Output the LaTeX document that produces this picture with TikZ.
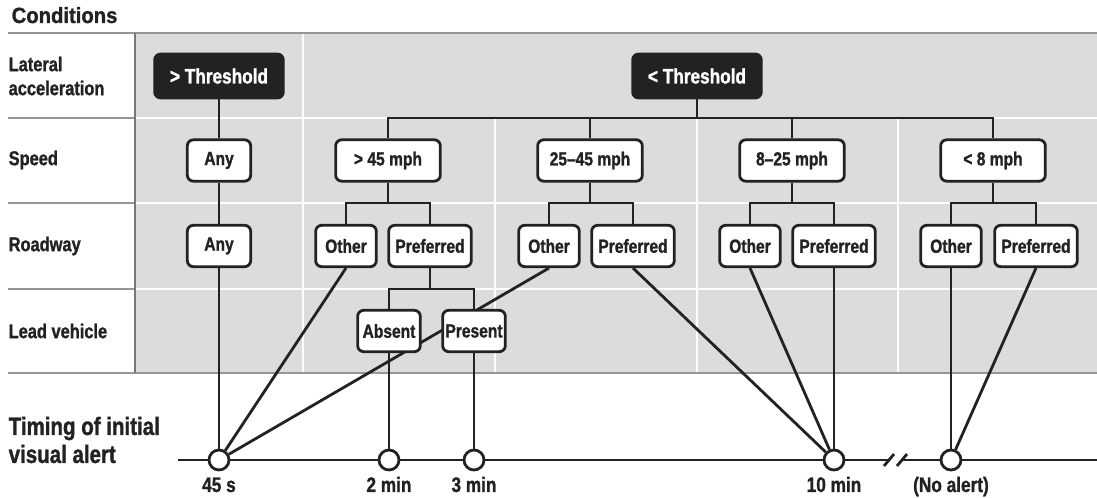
\documentclass[tikz,border=0pt]{standalone}
\usepackage{xcolor}
\usepackage{fontspec}
\setmainfont{Liberation Sans}[FakeStretch=0.82, BoldFont={Liberation Sans Bold},
    BoldFeatures={FakeStretch=0.82, FakeBold=1.2}]
\newfontfamily\titlefont{Liberation Sans}[FakeStretch=0.92, BoldFont={Liberation Sans Bold},
    BoldFeatures={FakeStretch=0.92, FakeBold=1.2}]
\usepackage{tikz}
\usetikzlibrary{positioning, backgrounds}
\definecolor{panelgray}{RGB}{220, 220, 220}
\definecolor{rulegray}{RGB}{150, 150, 150}
\definecolor{inkdark}{RGB}{34, 34, 34}

\begin{document}
\begin{tikzpicture}[
    x=0.75pt, y=-0.75pt,
    every node/.style={text=inkdark},
    rowlabel/.style={anchor=west, align=left, font=\bfseries\fontsize{15}{18}\selectfont},
    choice/.style={rectangle, draw=inkdark, line width=2.1pt, rounded corners=4.5pt,
                   fill=white, minimum height=31pt, inner sep=0pt,
                   font=\bfseries\fontsize{14.25}{16}\selectfont},
    threshold/.style={choice, fill=inkdark, text=white, minimum width=96.5pt,
                      minimum height=33pt, font=\bfseries\fontsize{15.75}{18}\selectfont},
    speedbox/.style={choice, minimum width=78.5pt},
    anybox/.style={choice, minimum width=47.5pt},
    otherbox/.style={choice, minimum width=45.5pt},
    prefbox/.style={choice, minimum width=62pt},
    leadbox/.style={choice, minimum width=47pt},
    timing/.style={circle, draw=inkdark, line width=2.1pt, fill=white,
                   minimum size=15pt, inner sep=0pt},
    timelabel/.style={anchor=base, font=\bfseries\fontsize{15.75}{18}\selectfont},
    link/.style={draw=inkdark, line width=2.1pt}
]
    \useasboundingbox (0,0) rectangle (1097,498);

    % Row labels
    \node[anchor=base west, font=\titlefont\bfseries\fontsize{16.5}{19}\selectfont] (title) at (7,23) {Conditions};
    \node[rowlabel] (lbllat) at (4,76) {Lateral\\acceleration};
    \node[rowlabel] (lblspeed) at (4,160) {Speed};
    \node[rowlabel] (lblroad) at (4,246) {Roadway};
    \node[rowlabel] (lbllead) at (4,331) {Lead vehicle};
    \node[rowlabel, font=\bfseries\fontsize{18.75}{21}\selectfont] (lbltiming) at (4,440) {Timing of initial\\visual alert};

    % Lateral acceleration
    \node[threshold] (thr1) at (219,76) {> Threshold};
    \node[threshold] (thr2) at (697,76) {< Threshold};

    % Speed
    \node[anybox] (any1) at (219,160.5) {Any};
    \node[speedbox] (s45) at (388,160.5) {> 45 mph};
    \node[speedbox] (s2545) at (590,160.5) {25–45 mph};
    \node[speedbox] (s825) at (792,160.5) {8–25 mph};
    \node[speedbox] (s8) at (993,160.5) {< 8 mph};

    % Roadway
    \node[anybox] (any2) at (219,246) {Any};
    \node[otherbox] (oth1) at (346,246) {Other};
    \node[prefbox] (pref1) at (430,246) {Preferred};
    \node[otherbox] (oth2) at (549,246) {Other};
    \node[prefbox] (pref2) at (633,246) {Preferred};
    \node[otherbox] (oth3) at (750,246) {Other};
    \node[prefbox] (pref3) at (834,246) {Preferred};
    \node[otherbox] (oth4) at (951,246) {Other};
    \node[prefbox] (pref4) at (1036,246) {Preferred};

    % Lead vehicle
    \node[leadbox] (absent) at (389,331) {Absent};
    \node[leadbox] (present) at (474,331) {Present};

    % Timing
    \node[timing] (t45) at (219,460) {};
    \node[timing] (t2) at (389,460) {};
    \node[timing] (t3) at (474,460) {};
    \node[timing] (t10) at (834,460) {};
    \node[timing] (tno) at (951,460) {};
    \node[timelabel] (l45) at (219,492) {45 s};
    \node[timelabel] (l2) at (389,492) {2 min};
    \node[timelabel] (l3) at (474,492) {3 min};
    \node[timelabel] (l10) at (834,492) {10 min};
    \node[timelabel] (lno) at (951,492) {(No alert)};

    \coordinate (r1) at (0,118);
    \coordinate (r2) at (0,203);
    \coordinate (r3) at (0,289);
    \coordinate (tlstart) at (178,460);
    \coordinate (tlend) at (1097,460);
    \coordinate (brk1) at (889,460);
    \coordinate (brk2) at (902,460);

    \begin{scope}[on background layer]
        % Panel and grid
        \fill[panelgray] (135,33) rectangle (1097,373);
        \draw[white, line width=1.5pt] (135,118) -- (1097,118)
            (135,203) -- (1097,203) (135,289) -- (1097,289);
        \draw[white, line width=1.5pt] (303,33) -- (303,373);
        \foreach \gx in {495, 697, 898}
            \draw[white, line width=1.5pt] (\gx,118) -- (\gx,373);
        \draw[rulegray, line width=1.1pt] (8,33) -- (1097,33) (8,373) -- (1097,373);
        \foreach \gy in {118, 203, 289}
            \draw[rulegray, line width=1.1pt] (8,\gy) -- (135,\gy);
        \draw[rulegray!80!black, line width=1.1pt] (135,33) -- (135,373);

        % Tree
        \draw[link] (thr1) -- (any1);
        \draw[link] (any1) -- (any2);
        \draw[link] (any2) -- (t45);
        \draw[link] (thr2.south) -- (thr2.south |- r1);
        \draw[link] (s45.north) |- (thr2.south |- r1) -| (s8.north);
        \draw[link] (s2545.north) -- (s2545.north |- r1);
        \draw[link] (s825.north) -- (s825.north |- r1);
        \foreach \s/\o/\p in {s45/oth1/pref1, s2545/oth2/pref2, s825/oth3/pref3, s8/oth4/pref4} {
            \draw[link] (\s.south) -- (\s.south |- r2);
            \draw[link] (\o.north) |- (\s.south |- r2) -| (\p.north);
        }
        \draw[link] (pref1.south) -- (pref1.south |- r3);
        \draw[link] (absent.north) |- (pref1.south |- r3) -| (present.north);

        % To timing
        \draw[link] (oth1.south) -- (t45);
        \draw[link] (oth2.south) -- (t45);
        \draw[link] (absent) -- (t2);
        \draw[link] (present) -- (t3);
        \draw[link] (pref2.south) -- (t10);
        \draw[link] (oth3.south) -- (t10);
        \draw[link] (pref3) -- (t10);
        \draw[link] (oth4) -- (tno);
        \draw[link] (pref4.south) -- (tno);

        % Time axis
        \draw[link] (tlstart) -- (brk1);
        \draw[link] (brk2) -- (tlend);
        \draw[link] ([shift={(-5,6)}]brk1) -- ([shift={(5,-6)}]brk1);
        \draw[link] ([shift={(-5,6)}]brk2) -- ([shift={(5,-6)}]brk2);
    \end{scope}
\end{tikzpicture}
\end{document}
